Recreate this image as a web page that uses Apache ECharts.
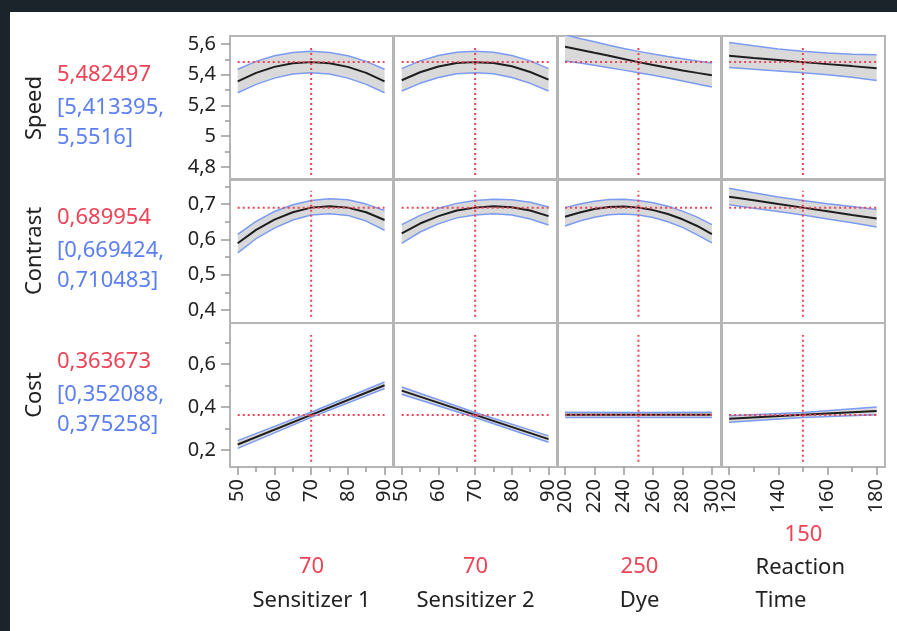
<!DOCTYPE html>
<html>
<head>
<meta charset="utf-8">
<script src="https://cdn.jsdelivr.net/npm/echarts@6/dist/echarts.min.js"></script>
<style>
html, body { margin: 0; padding: 0; background: #1b242b; }
#frame { position: absolute; left: 10px; top: 12px; width: 887px; height: 619px; background: #fff; overflow: hidden; }
#main { position: absolute; left: -10px; top: -12px; width: 897px; height: 631px; }
</style>
</head>
<body>
<div id="frame"><div id="main"></div></div>
<script>
// responses (rows)
var responses = ['Speed', 'Contrast', 'Cost'];
var predText = ['5,482497', '0,689954', '0,363673'];
var ciLowText = ['[5,413395,', '[0,669424,', '[0,352088,'];
var ciHighText = ['5,5516]', '0,710483]', '0,375258]'];
var predicted = [5.482497, 0.689954, 0.363673];

// factors (columns)
var factors = ['Sensitizer 1', 'Sensitizer 2', 'Dye', 'Reaction\nTime'];
var current = [70, 70, 250, 150];
var xMin = [47.9, 47.9, 195.2, 117.1];
var xMax = [92.3, 92.3, 306.2, 183.4];
var xMajor = [[50, 60, 70, 80, 90], [50, 60, 70, 80, 90], [200, 220, 240, 260, 280, 300], [120, 140, 160, 180]];
var xMinor = [[55, 65, 75, 85], [55, 65, 75, 85], [], [130, 150, 170]];

var yMin = [4.715, 0.3635, 0.121];
var yMax = [5.652, 0.771, 0.792];
var yMajor = [[4.8, 5, 5.2, 5.4, 5.6], [0.4, 0.5, 0.6, 0.7], [0.2, 0.4, 0.6]];
var yMinor = [[4.9, 5.1, 5.3, 5.5], [0.45, 0.55, 0.65, 0.75], [0.3, 0.5, 0.7]];
var crossTop = [5.582, 0.738, 0.736];
var crossBottom = [4.748, 0.381, 0.146];

// profile curves
var sensX = [50, 55, 60, 65, 70, 75, 80, 85, 90];
var dyeX = [200, 210, 220, 230, 240, 250, 260, 270, 280, 290, 300];
var rtX = [120, 130, 140, 150, 160, 170, 180];
var sensX3 = [50, 70, 90];
var dyeX3 = [200, 250, 300];
var rtX3 = [120, 150, 180];

var speedX = [sensX, sensX, dyeX, rtX];
var speedMid = [
  [5.357, 5.412, 5.451, 5.475, 5.482, 5.475, 5.451, 5.412, 5.357],
  [5.364, 5.416, 5.454, 5.476, 5.482, 5.477, 5.455, 5.418, 5.368],
  [5.582, 5.563, 5.543, 5.524, 5.503, 5.482, 5.463, 5.445, 5.428, 5.412, 5.397],
  [5.523, 5.509, 5.496, 5.482, 5.469, 5.456, 5.442]
];
var speedHi = [
  [5.436, 5.487, 5.523, 5.545, 5.552, 5.545, 5.523, 5.487, 5.436],
  [5.440, 5.490, 5.525, 5.546, 5.552, 5.546, 5.525, 5.490, 5.440],
  [5.660, 5.636, 5.614, 5.592, 5.571, 5.552, 5.535, 5.519, 5.504, 5.490, 5.477],
  [5.610, 5.588, 5.568, 5.552, 5.541, 5.534, 5.530]
];
var speedLo = [
  [5.283, 5.337, 5.378, 5.405, 5.413, 5.405, 5.378, 5.337, 5.283],
  [5.294, 5.344, 5.382, 5.406, 5.413, 5.406, 5.382, 5.344, 5.294],
  [5.490, 5.476, 5.461, 5.446, 5.430, 5.413, 5.396, 5.378, 5.359, 5.340, 5.320],
  [5.447, 5.435, 5.424, 5.413, 5.400, 5.383, 5.362]
];

var contrastX = [sensX, sensX, dyeX, rtX];
var contrastMid = [
  [0.589, 0.627, 0.656, 0.677, 0.690, 0.694, 0.690, 0.677, 0.655],
  [0.617, 0.645, 0.666, 0.682, 0.690, 0.694, 0.691, 0.682, 0.666],
  [0.664, 0.676, 0.686, 0.692, 0.693, 0.690, 0.683, 0.672, 0.657, 0.638, 0.615],
  [0.721, 0.711, 0.700, 0.690, 0.680, 0.669, 0.659]
];
var contrastHi = [
  [0.614, 0.651, 0.679, 0.698, 0.710, 0.715, 0.712, 0.700, 0.682],
  [0.642, 0.668, 0.688, 0.702, 0.710, 0.714, 0.712, 0.705, 0.692],
  [0.690, 0.700, 0.708, 0.713, 0.714, 0.710, 0.704, 0.694, 0.680, 0.663, 0.642],
  [0.745, 0.732, 0.720, 0.710, 0.701, 0.693, 0.685]
];
var contrastLo = [
  [0.562, 0.602, 0.632, 0.655, 0.669, 0.673, 0.668, 0.652, 0.626],
  [0.589, 0.621, 0.644, 0.661, 0.669, 0.673, 0.669, 0.658, 0.641],
  [0.638, 0.652, 0.663, 0.670, 0.672, 0.669, 0.662, 0.650, 0.634, 0.613, 0.590],
  [0.698, 0.688, 0.679, 0.669, 0.658, 0.647, 0.635]
];

var costX = [sensX3, sensX3, dyeX3, rtX3];
var costMid = [[0.226, 0.364, 0.502], [0.477, 0.364, 0.251], [0.364, 0.364, 0.364], [0.346, 0.364, 0.382]];
var costHi = [[0.244, 0.376, 0.517], [0.494, 0.375, 0.266], [0.376, 0.375, 0.376], [0.360, 0.375, 0.401]];
var costLo = [[0.208, 0.352, 0.487], [0.460, 0.352, 0.236], [0.352, 0.352, 0.352], [0.330, 0.352, 0.365]];

var curveX = [speedX, contrastX, costX];
var curveMid = [speedMid, contrastMid, costMid];
var curveHi = [speedHi, contrastHi, costHi];
var curveLo = [speedLo, contrastLo, costLo];

// layout
var colLeft = [230, 394, 558, 722];
var colWidth = 163;
var rowTop = [36, 179, 323];
var rowHeight = 144;
var FONT = '"Noto Sans", "Open Sans", sans-serif';
var RED = '#ee4356';
var BLUE = '#5b7ff0';
var TXT = '#222222';

function comma(v) { return String(v).replace('.', ','); }
function pairs(xs, ys) { return xs.map(function (x, k) { return [x, ys[k]]; }); }

var grids = [], xAxes = [], yAxes = [], series = [];

for (var r = 0; r < 3; r++) {
  for (var f = 0; f < 4; f++) {
    var g = r * 4 + f;
    var bottom = r === 2, left = f === 0;
    grids.push({
      left: colLeft[f], top: rowTop[r], width: colWidth, height: rowHeight,
      show: true, borderColor: '#b5b5b5', borderWidth: 2, backgroundColor: 'transparent'
    });
    xAxes.push({
      type: 'value', gridIndex: g, position: 'bottom', min: xMin[f], max: xMax[f],
      splitLine: { show: false }, axisLine: { show: false },
      axisTick: { show: bottom, length: 8, lineStyle: { color: '#9a9a9a', width: 1.5 }, customValues: xMajor[f] },
      axisLabel: {
        show: bottom, rotate: 90, margin: 12, fontSize: 20, fontFamily: FONT, color: TXT,
        customValues: xMajor[f], formatter: comma
      }
    });
    yAxes.push({
      type: 'value', gridIndex: g, position: 'left', min: yMin[r], max: yMax[r],
      splitLine: { show: false }, axisLine: { show: false },
      axisTick: { show: left, length: 9, lineStyle: { color: '#9a9a9a', width: 1.5 }, customValues: yMajor[r] },
      axisLabel: {
        show: left, margin: 14, fontSize: 20, fontFamily: FONT, color: TXT,
        customValues: yMajor[r], formatter: comma
      }
    });

    var xs = curveX[r][f], hi = curveHi[r][f], lo = curveLo[r][f], mid = curveMid[r][f];
    (function (xs, hi, lo, g) {
      series.push({
        type: 'custom', xAxisIndex: g, yAxisIndex: g, clip: true, silent: true, z: 1,
        data: [[xs[0], lo[0]]],
        renderItem: function (params, api) {
          var pts = [];
          for (var k = 0; k < xs.length; k++) pts.push(api.coord([xs[k], hi[k]]));
          for (var k2 = xs.length - 1; k2 >= 0; k2--) pts.push(api.coord([xs[k2], lo[k2]]));
          return { type: 'polygon', shape: { points: pts }, style: { fill: '#d9d9d9' } };
        }
      });
    })(xs, hi, lo, g);

    var base = { type: 'line', xAxisIndex: g, yAxisIndex: g, symbol: 'none', silent: true, clip: true };
    series.push(Object.assign({}, base, { z: 2, data: pairs(xs, hi), lineStyle: { color: '#7b9bf2', width: 1.5 } }));
    series.push(Object.assign({}, base, { z: 2, data: pairs(xs, lo), lineStyle: { color: '#7b9bf2', width: 1.5 } }));
    series.push(Object.assign({}, base, { z: 3, data: pairs(xs, mid), lineStyle: { color: '#1e1e1e', width: 2 } }));
    series.push(Object.assign({}, base, {
      z: 4, data: [[xs[0], predicted[r]], [xs[xs.length - 1], predicted[r]]],
      lineStyle: { color: RED, width: 2, type: [2, 3] }
    }));
    series.push(Object.assign({}, base, {
      z: 4, data: [[current[f], crossBottom[r]], [current[f], crossTop[r]]],
      lineStyle: { color: RED, width: 2, type: [2, 3] }
    }));
  }
}

// minor ticks (second axis in the same grid, kept on the same side)
for (var f2 = 0; f2 < 4; f2++) {
  xAxes.push({
    type: 'value', gridIndex: 8 + f2, position: 'bottom', min: xMin[f2], max: xMax[f2],
    splitLine: { show: false }, axisLine: { show: false }, axisLabel: { show: false },
    axisTick: { show: xMinor[f2].length > 0, length: 5, lineStyle: { color: '#9a9a9a', width: 1.5 }, customValues: xMinor[f2] }
  });
}
for (var r2 = 0; r2 < 3; r2++) {
  yAxes.push({
    type: 'value', gridIndex: r2 * 4, position: 'left', min: yMin[r2], max: yMax[r2],
    splitLine: { show: false }, axisLine: { show: false }, axisLabel: { show: false },
    axisTick: { show: true, length: 5, lineStyle: { color: '#9a9a9a', width: 1.5 }, customValues: yMinor[r2] }
  });
}

// texts
var graphics = [];
function txt(x, y, text, color, align) {
  return {
    type: 'text', x: x, y: y, silent: true,
    style: {
      text: text, fill: color, font: '22px ' + FONT,
      align: align, verticalAlign: 'middle', textAlign: align, textVerticalAlign: 'middle'
    }
  };
}
for (var r3 = 0; r3 < 3; r3++) {
  var cy = rowTop[r3] + rowHeight / 2;
  graphics.push(Object.assign(txt(35, cy, responses[r3], TXT, 'center'), { rotation: Math.PI / 2 }));
  graphics.push(txt(57, cy - 33, predText[r3], RED, 'left'));
  graphics.push(txt(57, cy, ciLowText[r3], BLUE, 'left'));
  graphics.push(txt(57, cy + 30, ciHighText[r3], BLUE, 'left'));
}
for (var f3 = 0; f3 < 4; f3++) {
  var cx = colLeft[f3] + colWidth / 2;
  if (f3 < 3) {
    graphics.push(txt(cx, 567, String(current[f3]), RED, 'center'));
    graphics.push(txt(cx, 601, factors[f3], TXT, 'center'));
  } else {
    graphics.push(txt(cx, 535, String(current[f3]), RED, 'center'));
    var el = txt(cx - 48, 584.5, factors[f3], TXT, 'left');
    el.style.lineHeight = 33;
    graphics.push(el);
  }
}

var chart = echarts.init(document.getElementById('main'));
chart.setOption({
  backgroundColor: '#ffffff',
  animation: false,
  textStyle: { fontFamily: FONT },
  grid: grids,
  xAxis: xAxes,
  yAxis: yAxes,
  series: series,
  graphic: { elements: graphics }
});
</script>
</body>
</html>
